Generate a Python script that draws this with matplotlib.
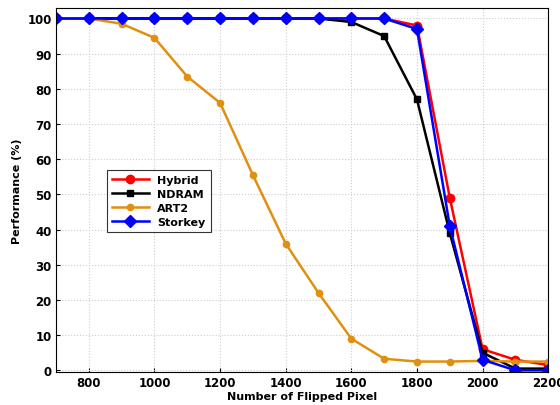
import matplotlib
matplotlib.use("Agg")
import matplotlib.pyplot as plt

# number of flipped pixels
pixels = [700, 800, 900, 1000, 1100, 1200, 1300, 1400, 1500, 1600,
          1700, 1800, 1900, 2000, 2100, 2200]

# performance (%)
hybrid = [100, 100, 100, 100, 100, 100, 100, 100, 100, 100,
          100, 98, 49, 6, 3, 1.5]
ndram = [100, 100, 100, 100, 100, 100, 100, 100, 100, 99,
         95, 77, 39, 5, 0.5, 0.5]
art2 = [100, 100, 98.5, 94.5, 83.5, 76, 55.5, 36, 22, 9,
        3.3, 2.5, 2.5, 2.7, 2.5, 2.5]
storkey = [100, 100, 100, 100, 100, 100, 100, 100, 100, 100,
           100, 97, 41, 3, 0, 0]

fig = plt.figure(figsize=(5.6, 4.06), dpi=100)
ax = fig.add_axes([0.1, 0.081, 0.879, 0.897])

ax.plot(pixels, hybrid, color='#ff0000', marker='o', markersize=6, linewidth=1.8, label='Hybrid')
ax.plot(pixels, ndram, color='black', marker='s', markersize=4, linewidth=1.8, label='NDRAM')
ax.plot(pixels, art2, color='#e0900f', marker='o', markersize=4.5, linewidth=1.8, label='ART2')
ax.plot(pixels, storkey, color='#0000ff', marker='D', markersize=6, linewidth=1.8, label='Storkey')

ax.set_xlim(700, 2200)
ax.set_ylim(-0.5, 103)
ax.set_xticks(range(800, 2201, 200))
ax.set_yticks(range(0, 101, 10))
ax.grid(True, linestyle=':', color='#cccccc', linewidth=0.8)
for lab in ax.get_xticklabels() + ax.get_yticklabels():
    lab.set_fontweight('bold')
    lab.set_fontsize(8.5)
ax.tick_params(direction='in', length=3, pad=3)

ax.set_xlabel('Number of Flipped Pixel', fontsize=8, fontweight='bold', labelpad=1)
ax.set_ylabel('Performance (%)', fontsize=8, fontweight='bold', labelpad=4)

leg = ax.legend(loc='upper left', bbox_to_anchor=(0.092, 0.57), fancybox=False,
                edgecolor='black', prop={'weight': 'bold', 'size': 8},
                handlelength=3.3, borderpad=0.45, labelspacing=0.35)
leg.get_frame().set_linewidth(0.8)

fig.savefig('out.png', dpi=100)
